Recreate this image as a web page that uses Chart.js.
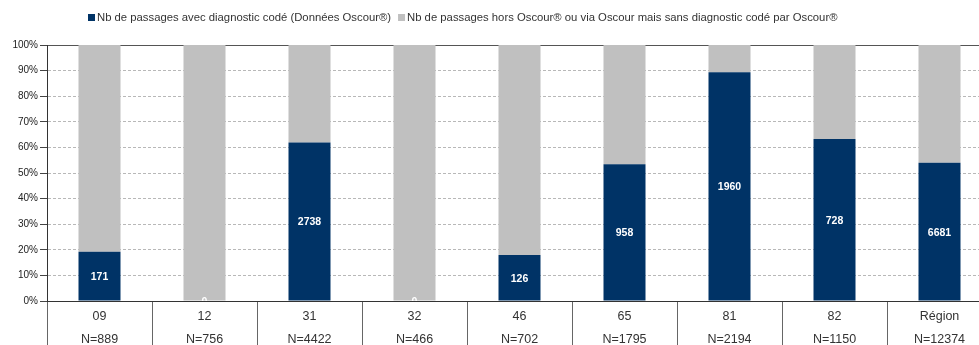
<!DOCTYPE html>
<html lang="fr">
<head>
<meta charset="utf-8">
<title>Passages aux urgences par département</title>
<script src="https://cdn.jsdelivr.net/npm/chart.js@4/dist/chart.umd.min.js"></script>
<style>
  html, body { margin: 0; padding: 0; background: #fff; overflow: hidden; }
  #wrap { width: 992px; height: 345px; }
</style>
</head>
<body>
<div id="wrap"><canvas id="chart" width="992" height="345"></canvas></div>
<script>
// Départements (et total régional)
const categories = ['09', '12', '31', '32', '46', '65', '81', '82', 'Région'];
// Nombre total de passages par territoire
const totals = [889, 756, 4422, 466, 702, 1795, 2194, 1150, 12374];
// Passages avec diagnostic codé (Données Oscour®)
const codedCounts = [171, 0, 2738, 0, 126, 958, 1960, 728, 6681];
// Passages hors Oscour® ou sans diagnostic codé
const otherCounts = [718, 756, 1684, 466, 576, 837, 234, 422, 5693];

const seriesLabels = [
  'Nb de passages avec diagnostic codé (Données Oscour®)',
  'Nb de passages hors Oscour® ou via Oscour mais sans diagnostic codé par Oscour®'
];
const yTicks = [0, 10, 20, 30, 40, 50, 60, 70, 80, 90, 100];

const FONT = "'Liberation Sans', Arial, sans-serif";
Chart.defaults.font.family = FONT;

// Share of each series in the territory's total (100% stacked)
const share = (arr) => arr.map((v, i) => v / (codedCounts[i] + otherCounts[i]) * 100);

const xLabels = categories.map((c, i) => [c, 'N=' + totals[i]]);

// White count labels centred in the dark bars
const countLabels = {
  id: 'countLabels',
  afterDatasetsDraw(chart) {
    const { ctx, chartArea } = chart;
    const meta = chart.getDatasetMeta(0);
    ctx.save();
    ctx.beginPath();
    ctx.rect(chartArea.left, chartArea.top, chartArea.right - chartArea.left, chartArea.bottom - chartArea.top);
    ctx.clip();
    ctx.fillStyle = '#ffffff';
    ctx.font = 'bold 10.5px ' + FONT;
    ctx.textAlign = 'center';
    ctx.textBaseline = 'middle';
    meta.data.forEach((bar, i) => {
      const p = bar.getProps(['x', 'y', 'base'], true);
      ctx.fillText(String(codedCounts[i]), p.x, (p.y + p.base) / 2 + 1);
    });
    ctx.restore();
  }
};

// Legend line above the plot
const topLegend = {
  id: 'topLegend',
  afterDraw(chart) {
    const { ctx } = chart;
    ctx.save();
    ctx.font = '11.3px ' + FONT;
    ctx.textBaseline = 'middle';
    let x = 88;
    const y = 17.5;
    chart.data.datasets.forEach((ds) => {
      ctx.fillStyle = ds.backgroundColor;
      ctx.fillRect(x, 14, 7, 7);
      x += 9;
      ctx.fillStyle = '#333333';
      ctx.fillText(ds.label, x, y);
      x += ctx.measureText(ds.label).width + 7;
    });
    ctx.restore();
  }
};

new Chart(document.getElementById('chart'), {
  type: 'bar',
  data: {
    labels: xLabels,
    datasets: [
      {
        label: seriesLabels[0],
        data: share(codedCounts),
        backgroundColor: '#003366',
        borderWidth: 0
      },
      {
        label: seriesLabels[1],
        data: share(otherCounts),
        backgroundColor: '#c0c0c0',
        borderWidth: 0
      }
    ]
  },
  options: {
    responsive: false,
    animation: false,
    events: [],
    layout: { padding: { top: 45, left: 0, right: 0, bottom: 0 } },
    datasets: {
      bar: { categoryPercentage: 1, barPercentage: 0.4 }
    },
    plugins: {
      legend: { display: false },
      tooltip: { enabled: false }
    },
    scales: {
      x: {
        stacked: true,
        afterFit: (s) => { s.height = 44; },
        grid: {
          offset: true,
          drawOnChartArea: false,
          drawTicks: true,
          tickLength: 44,
          tickColor: '#666666',
          color: '#666666'
        },
        border: { display: true, color: '#333333', width: 1 },
        ticks: {
          autoSkip: false,
          maxRotation: 0,
          minRotation: 0,
          padding: -39.5,
          color: '#333333',
          font: { size: 12.5, lineHeight: 1.84 }
        }
      },
      y: {
        stacked: true,
        min: 0,
        max: 100,
        afterFit: (s) => { s.width = 47; },
        afterBuildTicks: (s) => { s.ticks = yTicks.map((v) => ({ value: v })); },
        grid: {
          drawTicks: true,
          tickLength: 7,
          tickColor: '#444444',
          tickBorderDash: [],
          color: (c) => (c.tick && c.tick.value === 100 ? '#555555' : '#b8b8b8')
        },
        border: {
          display: true,
          color: '#333333',
          width: 1,
          dash: (c) => (c.tick && c.tick.value === 100 ? [] : [3, 2])
        },
        ticks: {
          padding: 2,
          color: '#222222',
          font: { size: 10 },
          callback: (v) => v + '%'
        }
      }
    }
  },
  plugins: [countLabels, topLegend]
});
</script>
</body>
</html>
